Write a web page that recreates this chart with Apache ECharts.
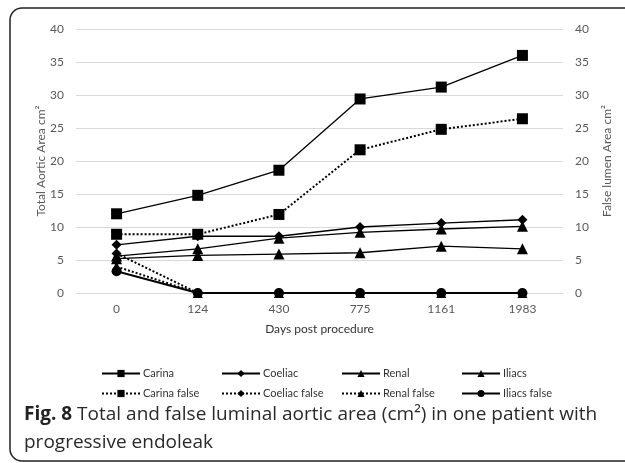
<!DOCTYPE html>
<html><head><meta charset="utf-8">
<script src="https://cdn.jsdelivr.net/npm/echarts@6/dist/echarts.min.js"></script>
<style>html,body{margin:0;padding:0;background:#fff}#c{width:625px;height:463px}</style>
</head><body><div id="c"></div>
<script>
const days = ['0','124','430','775','1161','1983'];
const yTicks = [0,5,10,15,20,25,30,35,40];
const carina = [12, 14.8, 18.6, 29.4, 31.2, 36];
const coeliac = [7.3, 8.6, 8.6, 10, 10.6, 11.1];
const renal = [5.6, 6.7, 8.3, 9.2, 9.7, 10.1];
const iliacs = [5.2, 5.7, 5.9, 6.1, 7.1, 6.7];
const carinaFalse = [8.9, 8.9, 11.9, 21.7, 24.8, 26.4];
const coeliacFalse = [6.0, 0, 0, 0, 0, 0];
const renalFalse = [4.0, 0, 0, 0, 0, 0];
const iliacsFalse = [3.3, 0, 0, 0, 0, 0];

const F = 'Lato, "Open Sans", sans-serif';
const GRAY = '#595959';
function mk(name, data, symbol, size, dotted, yIdx){
  return {name, type:'line', data, yAxisIndex:yIdx, symbol, symbolSize:size,
    itemStyle:{color:'#000'},
    lineStyle:{color:'#000', width: dotted?2:1.3, type: dotted?'dotted':'solid'},
    emphasis:{disabled:true}, animation:false, z: dotted?3:4};
}
const series = [
  mk('Carina', carina, 'rect', 11, false, 0),
  mk('Coeliac', coeliac, 'diamond', 10, false, 0),
  mk('Renal', renal, 'triangle', 11, false, 0),
  mk('Iliacs', iliacs, 'triangle', 11, false, 0),
  mk('Carina false', carinaFalse, 'rect', 11, true, 1),
  mk('Coeliac false', coeliacFalse, 'diamond', 10, true, 1),
  mk('Renal false', renalFalse, 'triangle', 10, true, 1),
  mk('Iliacs false', iliacsFalse, 'circle', 10, false, 1)
];
series[7].lineStyle.width = 2;
const names = series.map(s=>s.name);
const legends = names.map((n,i)=>({
  data:[n], left: 96 + (i%4)*120, top: i<4 ? 363 : 383,
  itemWidth: 38, itemHeight: 9, itemGap: 4,
  textStyle:{fontFamily:F, fontSize:11, color:'#333', padding:[0,0,0,-2]},
  selectedMode:false
}));
const axisCommon = (pos, name, gap) => ({
  type:'value', position:pos, min:0, max:40, interval:5,
  name, nameLocation:'middle', nameGap:gap, nameRotate: 90, nameMoveOverlap:false,
  nameTextStyle:{fontFamily:F, fontSize:12, color:GRAY},
  axisLine:{show:false}, axisTick:{show:false},
  axisLabel:{fontFamily:F, fontSize:12, color:GRAY, margin: 12},
  splitLine:{show: pos==='left', lineStyle:{color:'#d9d9d9', width:1}}
});
const chart = echarts.init(document.getElementById('c'), null, {renderer:'canvas'});
chart.setOption({
  animation:false,
  backgroundColor:'#fff',
  title:{
    text:'{b|Fig. 8} Total and false luminal aortic area (cm²) in one patient with\nprogressive endoleak',
    left:19, top:396,
    textStyle:{fontFamily:'"Open Sans", sans-serif', fontSize:19, fontWeight:'normal', color:'#2a2a2a', lineHeight:28,
      rich:{b:{fontFamily:'"Open Sans", sans-serif', fontSize:19, fontWeight:'bold', color:'#222', lineHeight:28}}}
  },
  graphic:[{type:'rect', shape:{x:10, y:8, width:650, height:453, r:12},
    style:{fill:'none', stroke:'#222', lineWidth:1.5}, silent:true, z:-1}],
  legend: legends,
  grid:{left:76, right:62, top:29, bottom:170},
  xAxis:{type:'category', data:days, boundaryGap:true,
    name:'Days post procedure', nameLocation:'middle', nameGap:30, nameMoveOverlap:false,
    nameTextStyle:{fontFamily:F, fontSize:12, color:'#333'},
    axisLine:{show:true, lineStyle:{color:'#d9d9d9'}}, axisTick:{show:false},
    axisLabel:{fontFamily:F, fontSize:12, color:GRAY, margin:10}},
  yAxis:[axisCommon('left','Total Aortic Area cm²',29), axisCommon('right','False lumen Area cm²',38)],
  series
});
</script></body></html>
